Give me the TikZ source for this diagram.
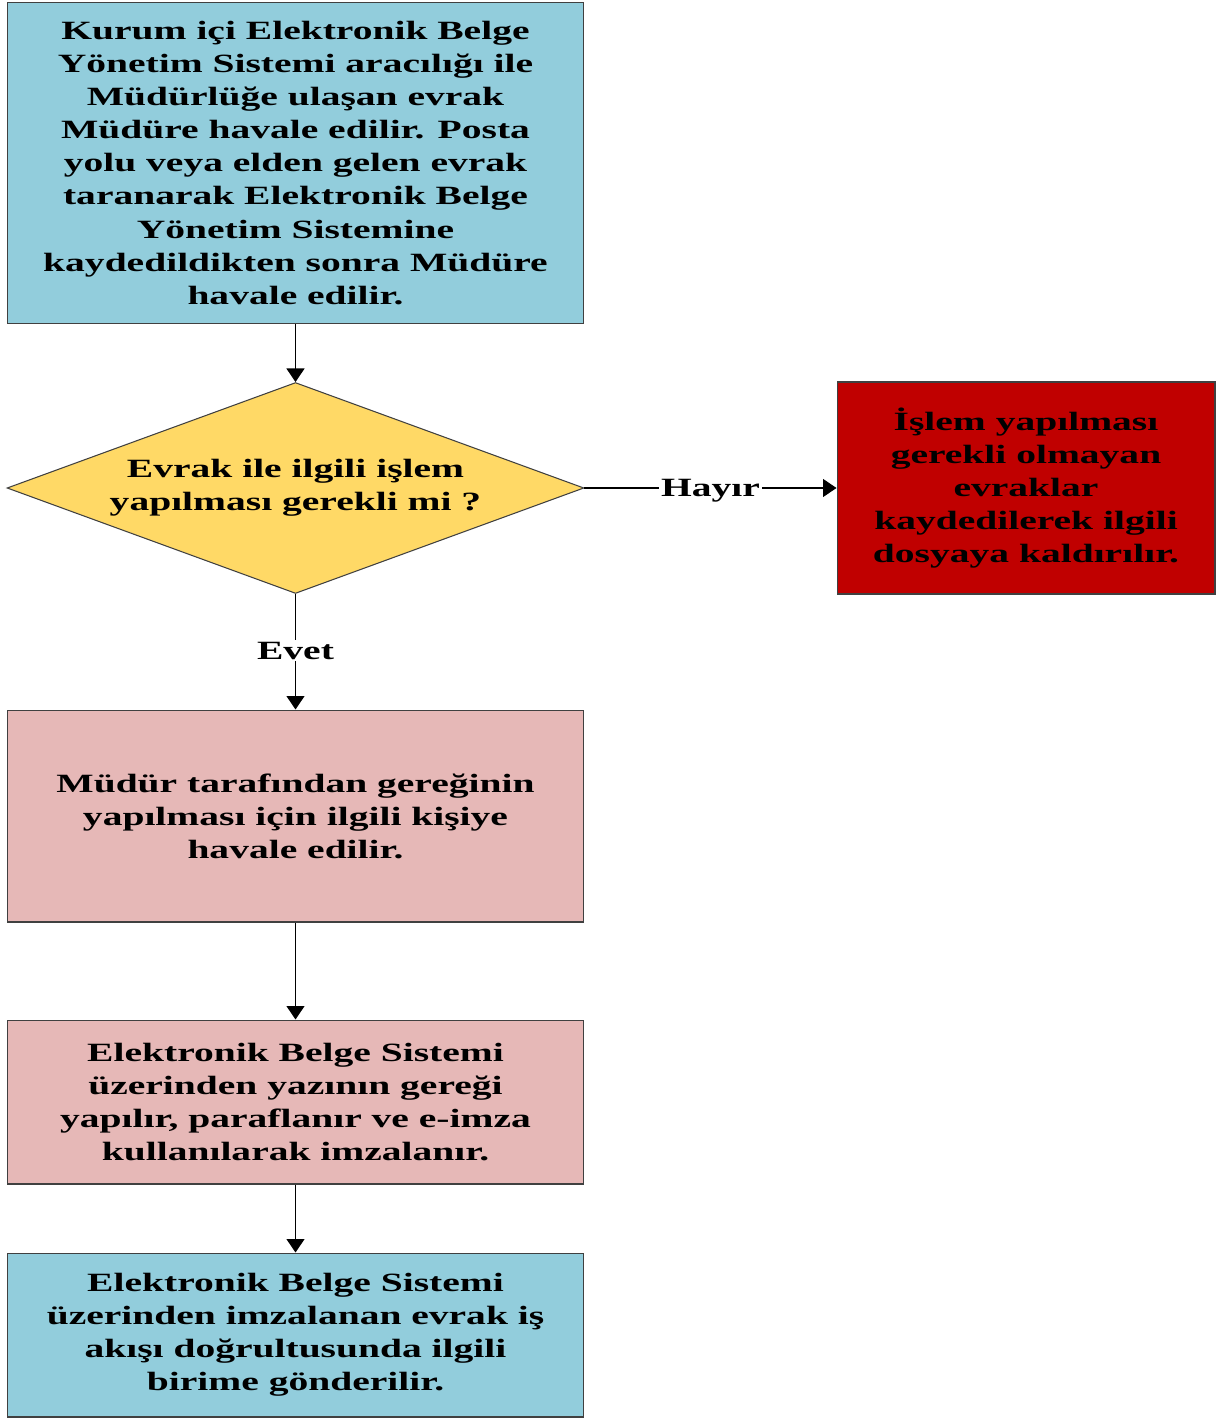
\documentclass[tikz,border=0pt]{standalone}
\usepackage{fontspec}
\setmainfont{Liberation Serif}[FakeStretch=1.5]
\usetikzlibrary{shapes.geometric,arrows.meta}
\definecolor{kutumavi}{HTML}{92CDDC}
\definecolor{kararsari}{HTML}{FFD966}
\definecolor{retkirmizi}{HTML}{C00000}
\definecolor{islempembe}{HTML}{E6B8B7}
\tikzset{
  kutu/.style={draw=black!75, line width=0.6pt, align=center, inner sep=0pt,
    font=\fontsize{15}{18.8}\selectfont\bfseries},
  karar/.style={kutu, diamond, aspect=2.73, fill=kararsari},
  ok/.style={-{Triangle[length=0.27cm,width=0.36cm]}, line width=0.6pt},
  etiket/.style={fill=white, inner sep=1pt, text depth=0pt, font=\fontsize{15}{18.8}\selectfont\bfseries},
}
\begin{document}
\begin{tikzpicture}[x=0.02cm,y=-0.02cm]
  \useasboundingbox (0,0) rectangle (1216,1419);
  \node[kutu, fill=kutumavi, minimum width=11.54cm, minimum height=6.44cm] (giris) at (295.5,163)
    {Kurum içi Elektronik Belge\\Yönetim Sistemi aracılığı ile\\Müdürlüğe ulaşan evrak\\Müdüre havale edilir. Posta\\yolu veya elden gelen evrak\\taranarak Elektronik Belge\\Yönetim Sistemine\\kaydedildikten sonra Müdüre\\havale edilir.};
  \node[karar, minimum width=11.54cm, minimum height=4.22cm] (soru) at (295.5,488)
    {Evrak ile ilgili işlem\\yapılması gerekli mi ?};
  \node[kutu, fill=retkirmizi, minimum width=7.56cm, minimum height=4.24cm] (dosya) at (1026,488)
    {İşlem yapılması\\gerekli olmayan\\evraklar\\kaydedilerek ilgili\\dosyaya kaldırılır.};
  \node[kutu, fill=islempembe, minimum width=11.54cm, minimum height=4.24cm] (havale) at (295.5,816)
    {Müdür tarafından gereğinin\\yapılması için ilgili kişiye\\havale edilir.};
  \node[kutu, fill=islempembe, minimum width=11.54cm, minimum height=3.28cm] (imza) at (295.5,1102)
    {Elektronik Belge Sistemi\\üzerinden yazının gereği\\yapılır, paraflanır ve e-imza\\kullanılarak imzalanır.};
  \node[kutu, fill=kutumavi, minimum width=11.54cm, minimum height=3.28cm] (gonder) at (295.5,1335)
    {Elektronik Belge Sistemi\\üzerinden imzalanan evrak iş\\akışı doğrultusunda ilgili\\birime gönderilir.};
  % baglantilar
  \draw[ok] (giris) -- (soru);
  \draw[ok] (soru.east) -- node[etiket]{Hayır} (dosya.west);
  \draw[ok] (soru.south) -- node[etiket, pos=0.49]{Evet} (havale.north);
  \draw[ok] (havale) -- (imza);
  \draw[ok] (imza) -- (gonder);
\end{tikzpicture}
\end{document}
